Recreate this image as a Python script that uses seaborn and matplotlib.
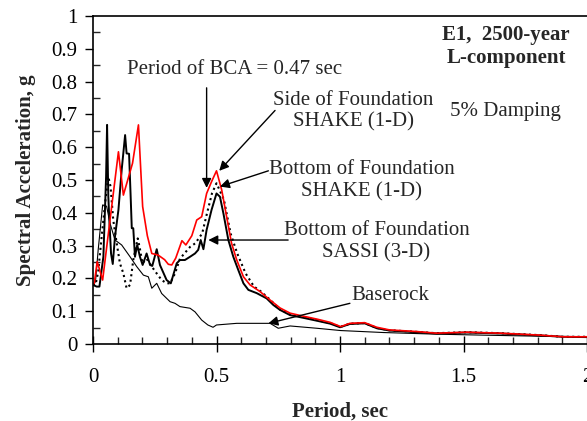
import matplotlib
matplotlib.use("Agg")
import matplotlib.pyplot as plt
import seaborn as sns
import pandas as pd
from matplotlib.ticker import MultipleLocator

# ---- data ----
side_shake_x = [0.0, 0.005, 0.017, 0.039, 0.103, 0.123, 0.16, 0.184, 0.201, 0.22, 0.238, 0.264,
                0.29, 0.305, 0.319, 0.335, 0.36, 0.376, 0.4, 0.42, 0.44, 0.46, 0.48, 0.5, 0.521,
                0.541, 0.561, 0.582, 0.609, 0.636, 0.676, 0.717, 0.757, 0.798, 0.85, 0.906, 0.96,
                1.003, 1.04, 1.1, 1.149, 1.2, 1.31, 1.39, 1.513, 1.65, 1.81, 1.904, 2.0]
side_shake_y = [0.183, 0.185, 0.251, 0.195, 0.586, 0.454, 0.551, 0.668, 0.419, 0.33, 0.276, 0.271,
                0.257, 0.243, 0.241, 0.262, 0.315, 0.302, 0.33, 0.378, 0.388, 0.459, 0.495, 0.528, 0.47,
                0.388, 0.307, 0.256, 0.205, 0.18, 0.16, 0.134, 0.11, 0.094, 0.085, 0.076, 0.066,
                0.053, 0.063, 0.065, 0.051, 0.043, 0.038, 0.033, 0.036, 0.033, 0.027, 0.022, 0.022]

bottom_sassi_x = [0.0, 0.015, 0.026, 0.042, 0.053, 0.057, 0.062, 0.066, 0.073, 0.08, 0.089, 0.103,
                  0.116, 0.13, 0.136, 0.146, 0.152, 0.157, 0.163, 0.17, 0.179, 0.19, 0.201, 0.217,
                  0.231, 0.24, 0.258, 0.271, 0.298, 0.315, 0.339, 0.352, 0.372, 0.393, 0.413, 0.426,
                  0.436, 0.447, 0.46, 0.48, 0.5, 0.514, 0.528, 0.548, 0.568, 0.588, 0.609, 0.629,
                  0.663, 0.703, 0.73, 0.757, 0.798, 0.85, 0.906, 0.96, 1.0, 1.04, 1.1, 1.149, 1.2,
                  1.31, 1.39, 1.513, 1.65, 1.81, 1.904, 2.0]
bottom_sassi_y = [0.18, 0.175, 0.175, 0.266, 0.51, 0.668, 0.45, 0.38, 0.276, 0.244, 0.327, 0.409,
                  0.53, 0.637, 0.581, 0.58, 0.459, 0.353, 0.353, 0.266, 0.302, 0.266, 0.241, 0.276,
                  0.241, 0.238, 0.289, 0.241, 0.195, 0.185, 0.246, 0.256, 0.256, 0.266, 0.276, 0.287,
                  0.317, 0.289, 0.348, 0.409, 0.459, 0.449, 0.398, 0.317, 0.266, 0.226, 0.185, 0.165,
                  0.155, 0.139, 0.119, 0.104, 0.088, 0.08, 0.071, 0.062, 0.051, 0.061, 0.063, 0.048, 0.041,
                  0.036, 0.032, 0.035, 0.032, 0.026, 0.022, 0.021]

bottom_shake_x = [0.0, 0.01, 0.021, 0.035, 0.049, 0.062, 0.071, 0.082, 0.096, 0.109, 0.123, 0.136,
                  0.15, 0.163, 0.181, 0.19, 0.2, 0.217, 0.238, 0.258, 0.278, 0.298, 0.312, 0.332,
                  0.352, 0.37, 0.393, 0.414, 0.442, 0.462, 0.482, 0.5, 0.53, 0.557, 0.584, 0.618,
                  0.652, 0.68, 0.717, 0.757, 0.798, 0.85, 0.906, 0.96, 1.0, 1.04, 1.1, 1.149, 1.2,
                  1.31, 1.39, 1.513, 1.65, 1.81, 1.904, 2.0]
bottom_shake_y = [0.18, 0.18, 0.22, 0.327, 0.43, 0.51, 0.48, 0.378, 0.307, 0.246, 0.215, 0.17,
                  0.18, 0.256, 0.322, 0.29, 0.246, 0.26, 0.236, 0.215, 0.195, 0.185, 0.185, 0.215,
                  0.26, 0.276, 0.296, 0.307, 0.337, 0.4, 0.46, 0.49, 0.44, 0.337, 0.276, 0.215,
                  0.175, 0.16, 0.135, 0.105, 0.09, 0.082, 0.073, 0.064, 0.052, 0.062, 0.064, 0.049, 0.042,
                  0.037, 0.033, 0.036, 0.033, 0.027, 0.022, 0.022]

baserock_x = [0.0, 0.01, 0.021, 0.039, 0.055, 0.069, 0.089, 0.116, 0.15, 0.177, 0.204, 0.224,
              0.238, 0.258, 0.278, 0.312, 0.332, 0.352, 0.393, 0.413, 0.44, 0.465, 0.486, 0.5,
              0.582, 0.636, 0.717, 0.75, 0.798, 0.906, 1.003, 1.175, 1.39, 1.58, 2.0]
baserock_y = [0.18, 0.19, 0.287, 0.424, 0.42, 0.368, 0.317, 0.302, 0.266, 0.236, 0.21, 0.205,
              0.17, 0.185, 0.154, 0.129, 0.124, 0.114, 0.109, 0.098, 0.073, 0.058, 0.051, 0.058,
              0.063, 0.063, 0.063, 0.048, 0.055, 0.048, 0.041, 0.035, 0.03, 0.027, 0.021]

x_ticks = [0, 0.5, 1, 1.5, 2]
x_tick_labels = ["0", "0.5", "1", "1.5", "2"]
y_ticks = [0, 0.1, 0.2, 0.3, 0.4, 0.5, 0.6, 0.7, 0.8, 0.9, 1.0]
y_tick_labels = ["0", "0.1", "0.2", "0.3", "0.4", "0.5", "0.6", "0.7", "0.8", "0.9", "1"]

# ---- style ----
sns.set_theme(style="ticks")
plt.rcParams["font.family"] = ["Liberation Serif", "DejaVu Serif"]

fig = plt.figure(figsize=(5.87, 4.21), dpi=100)
ax = fig.add_axes([93 / 587, 1 - 344 / 421, 1 - 93 / 587, (344 - 16) / 421])

series = [
    (baserock_x, baserock_y, dict(color="black", linewidth=0.8)),
    (bottom_shake_x, bottom_shake_y, dict(color="black", linewidth=1.5, linestyle=(0, (1, 1.6)))),
    (bottom_sassi_x, bottom_sassi_y, dict(color="black", linewidth=1.4)),
    (side_shake_x, side_shake_y, dict(color="#ff0000", linewidth=1.2)),
]
for xs, ys, kw in series:
    df = pd.DataFrame({"period": xs, "sa": ys})
    sns.lineplot(data=df, x="period", y="sa", ax=ax, estimator=None, sort=False, **kw)

ax.set_xlim(0, 2)
ax.set_ylim(0, 1)
ax.set_xticks(x_ticks)
ax.set_xticklabels(x_tick_labels)
ax.set_yticks(y_ticks)
ax.set_yticklabels(y_tick_labels)
ax.xaxis.set_minor_locator(MultipleLocator(0.1))
ax.yaxis.set_minor_locator(MultipleLocator(0.05))
ax.tick_params(axis="x", which="major", direction="inout", length=12, width=1, pad=11,
               labelsize=15, colors="black")
ax.tick_params(axis="x", which="minor", direction="in", length=5, width=1)
ax.tick_params(axis="y", which="major", direction="out", length=6, width=1, pad=5,
               labelsize=15, colors="black")
ax.tick_params(axis="y", which="minor", direction="in", length=5, width=1)
ax.spines["right"].set_visible(False)
for s in ["left", "bottom", "top"]:
    ax.spines[s].set_color("black")
    ax.spines[s].set_linewidth(1.2)
ax.set_facecolor("white")

ax.set_xlabel("Period, sec", fontsize=15, fontweight="bold", labelpad=11)
ax.set_ylabel("Spectral Acceleration, g", fontsize=15, fontweight="bold", labelpad=11)

# ---- annotations ----
fs = 15
arrow = dict(arrowstyle="-|>", color="black", lw=1.0, mutation_scale=14, shrinkA=0, shrinkB=0)

ax.text(0.575, 0.838, "Period of BCA = 0.47 sec", fontsize=fs, ha="center", va="center")
ax.annotate("", xy=(0.46, 0.476), xytext=(0.46, 0.781), arrowprops=arrow)

ax.text(1.053, 0.71, "Side of Foundation\nSHAKE (1-D)", fontsize=fs, ha="center", va="center",
        multialignment="center")
ax.annotate("", xy=(0.511, 0.528), xytext=(0.737, 0.712), arrowprops=arrow)

ax.text(1.089, 0.497, "Bottom of Foundation\nSHAKE (1-D)", fontsize=fs, ha="center", va="center",
        multialignment="center")
ax.annotate("", xy=(0.514, 0.48), xytext=(0.71, 0.528), arrowprops=arrow)

ax.text(1.148, 0.311, "Bottom of Foundation\nSASSI (3-D)", fontsize=fs, ha="center", va="center",
        multialignment="center")
ax.annotate("", xy=(0.467, 0.317), xytext=(0.79, 0.317), arrowprops=arrow)

ax.text(1.202, 0.149, "Baserock", fontsize=fs, ha="center", va="center")
ax.annotate("", xy=(0.71, 0.063), xytext=(1.04, 0.124), arrowprops=arrow)

ax.text(1.672, 0.907, "E1,  2500-year\nL-component", fontsize=fs, fontweight="bold",
        ha="center", va="center", multialignment="center")
ax.text(1.67, 0.708, "5% Damping", fontsize=fs, ha="center", va="center")

fig.savefig("out.png", dpi=100, facecolor="white")
